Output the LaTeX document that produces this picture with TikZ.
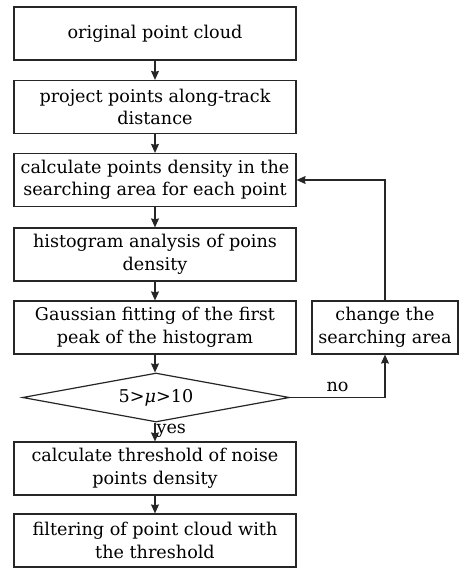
\documentclass[tikz,border=0pt]{standalone}
\usepackage{fontspec}
\setmainfont{DejaVu Serif}
\usetikzlibrary{arrows.meta, shapes.geometric, positioning, calc}

\begin{document}
\begin{tikzpicture}[x=1pt, y=-1pt,
    every node/.style={font=\fontsize{17.6}{22.5}\selectfont, text=black},
    stepbox/.style={draw=black!85, line width=1.2pt, rectangle, minimum width=282pt, minimum height=53pt, align=center, inner sep=1pt},
    sidebox/.style={draw=black!85, line width=1.2pt, rectangle, minimum width=146pt, minimum height=53pt, align=center, inner sep=1pt},
    flow/.style={->, draw=black!85, line width=1.2pt, >={Stealth[length=9pt, width=8pt, inset=1pt]}}]
      \useasboundingbox (0,0) rectangle (459,568);
      \node[stepbox] (orig) at (155,33.5) {original point cloud};
      \node[stepbox] (proj) at (155,107) {project points along-track\\distance};
      \node[stepbox] (dens) at (155,180) {calculate points density in the\\searching area for each point};
      \node[stepbox] (hist) at (155,254.5) {histogram analysis of poins\\density};
      \node[stepbox] (gauss) at (155,327.5) {Gaussian fitting of the first\\peak of the histogram};
      \node[draw=black!85, line width=1.2pt, diamond, aspect=5.45, inner sep=0pt, minimum width=267pt, minimum height=49pt] (test) at (156,397.5) {5>\textit{μ}>10};
      \node[stepbox] (thres) at (155,468.5) {calculate threshold of noise\\points density};
      \node[stepbox] (filt) at (155,540.5) {filtering of point cloud with\\the threshold};
      \node[sidebox] (change) at (385,327.5) {change the\\searching area};
      \draw[flow] (orig) -- (proj);
      \draw[flow] (proj) -- (dens);
      \draw[flow] (dens) -- (hist);
      \draw[flow] (hist) -- (gauss);
      \draw[flow] (gauss.south) -- (gauss.south |- test.north);
      \draw[flow] (test.south -| thres.north) -- (thres) node[midway, right, inner sep=1pt, yshift=1pt] {yes};
      \draw[flow] (thres) -- (filt);
      \draw[flow] (test.east) -| (change.south) node[pos=0.25, above, yshift=2pt] {no};
      \draw[flow] (change.north) |- (dens.east);
    \end{tikzpicture}
\end{document}
